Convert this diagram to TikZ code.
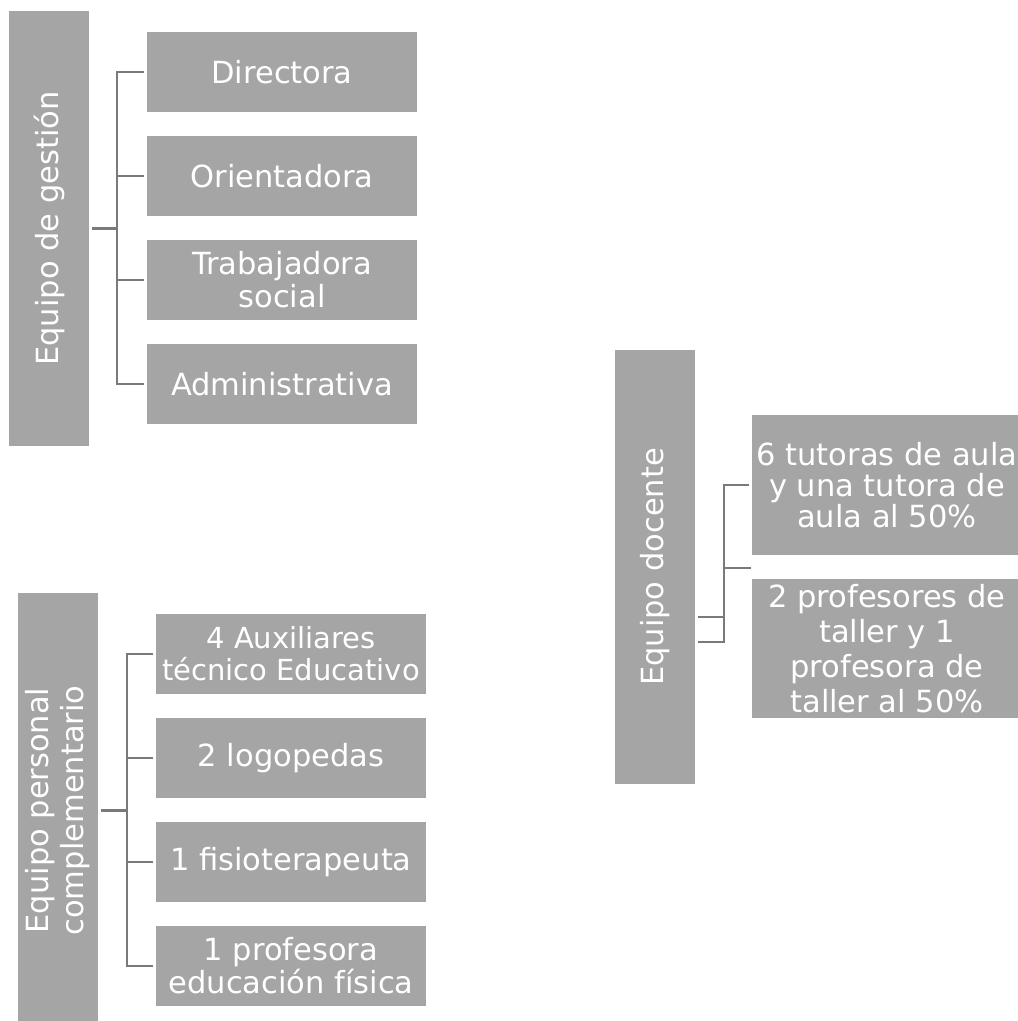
\documentclass[tikz,border=0pt]{standalone}
\usepackage{fontspec}
\setmainfont{DejaVu Sans}
\usepackage{xcolor}
\definecolor{boxgray}{HTML}{A5A5A5}
\definecolor{linegray}{HTML}{7A7A7A}
\tikzset{
  item/.style={fill=boxgray, text=white, minimum width=270bp, minimum height=80bp,
    inner sep=0pt, outer sep=3bp, align=center,
    font=\fontsize{30.5bp}{33bp}\selectfont},
  team/.style={item, minimum width=435bp, rotate=90},
  conn/.style={draw=linegray, line width=2.8bp}
}
\begin{document}
\begin{tikzpicture}[x=1bp, y=-1bp]
\useasboundingbox (0,0) rectangle (1018,1021);

% Equipo de gestion
\node[team] (gestion) at (49,228.5) {Equipo de gestión};
\node[item] (dir) at (282,72) {Directora};
\node[item] (orient) at (282,176) {Orientadora};
\node[item] (trab) at (282,280) {Trabajadora\\social};
\node[item] (admin) at (282,384) {Administrativa};
\foreach \n in {dir,orient,trab,admin}
  \draw[conn] (gestion.south) -- ++(25,0) |- (\n.west);

% Equipo personal complementario
\node[team, font=\fontsize{30.5bp}{35bp}\selectfont] (personal) at (58,810.5)
  {Equipo personal\\complementario};
\node[item, font=\fontsize{29bp}{32bp}\selectfont] (aux) at (291,654)
  {4 Auxiliares\\técnico Educativo};
\node[item] (logo) at (291,758) {2 logopedas};
\node[item] (fisio) at (291,862) {1 fisioterapeuta};
\node[item] (edfis) at (291,966) {1 profesora\\educación física};
\foreach \n in {aux,logo,fisio,edfis}
  \draw[conn] (personal.south) -- ++(26,0) |- (\n.west);

% Equipo docente
\node[team, minimum width=434bp] (docente) at (655,567) {Equipo docente};
\node[item, minimum height=140bp, font=\fontsize{30.5bp}{31bp}\selectfont]
  (tut) at (887,485) {6 tutoras de aula\\y una tutora de\\aula al 50\%};
\node[item, minimum height=139bp, font=\fontsize{30.5bp}{35bp}\selectfont]
  (prof) at (887,648.5) {2 profesores de\\taller y 1\\profesora de\\taller al 50\%};
\coordinate (dkA) at (724,617);
\coordinate (dkB) at (724,642);
\coordinate (dkC) at (751,568);
\draw[conn] (docente.south |- dkA) -- (dkA);
\draw[conn] (docente.south |- dkB) -- (dkB) |- (tut.west);
\draw[conn] (dkB |- dkC) -- (dkC);
\end{tikzpicture}
\end{document}
